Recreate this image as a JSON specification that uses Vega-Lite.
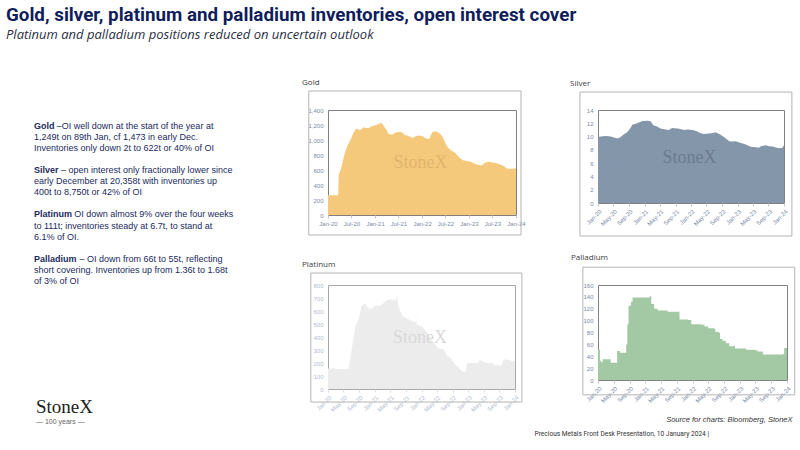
{
  "$schema": "https://vega.github.io/schema/vega-lite/v6.json",
  "background": "white",
  "padding": {"left": 6, "top": 6, "right": 0, "bottom": 0},
  "autosize": {"type": "pad"},
  "title": {
    "text": "Gold, silver, platinum and palladium inventories, open interest cover",
    "subtitle": "Platinum and palladium positions reduced on uncertain outlook",
    "anchor": "start", "frame": "bounds", "dx": -28, "offset": 36,
    "font": "Roboto", "fontSize": 18.8, "fontWeight": "bold", "color": "#0f1d5a",
    "subtitleFont": "Open Sans", "subtitleFontSize": 13, "subtitleFontStyle": "italic",
    "subtitleColor": "#2a2f45", "subtitlePadding": 4
  },
  "config": {
    "view": {"stroke": "#808080", "strokeWidth": 1},
    "title": {"font": "Open Sans", "fontSize": 8, "fontWeight": "normal", "color": "#404040", "anchor": "start", "frame": "group"},
    "axis": {"labelFont": "Liberation Sans", "labelFontSize": 6, "labelColor": "#7b8aa3", "gridColor": "#e2e2e2", "gridWidth": 0.8, "domain": false, "tickColor": "#c8c8c8", "tickSize": 3, "titleFont": "Liberation Sans"}
  },
  "bounds": "flush",
  "align": "each",
  "columns": 3,
  "spacing": {"row": 70, "column": 82},
  "datasets": {
    "notes": [
      {"line": 1, "kind": "head", "t": "Gold"},
      {"line": 1, "kind": "first", "p": "gold", "t": "–OI well down at the start of the year at"},
      {"line": 2, "kind": "body", "t": "1,249t on 89th Jan, cf 1,473 in early Dec."},
      {"line": 3, "kind": "body", "t": "Inventories only down 2t to 622t or 40% of OI"},
      {"line": 5, "kind": "head", "t": "Silver"},
      {"line": 5, "kind": "first", "p": "silver", "t": "– open interest only fractionally lower since"},
      {"line": 6, "kind": "body", "t": "early December at 20,358t with inventories up"},
      {"line": 7, "kind": "body", "t": "400t to 8,750t or 42% of OI"},
      {"line": 9, "kind": "head", "t": "Platinum"},
      {"line": 9, "kind": "first", "p": "platinum", "t": "OI down almost 9% over the four weeks"},
      {"line": 10, "kind": "body", "t": "to 111t; inventories steady at 6.7t, to stand at"},
      {"line": 11, "kind": "body", "t": "6.1% of OI."},
      {"line": 13, "kind": "head", "t": "Palladium"},
      {"line": 13, "kind": "first", "p": "palladium", "t": "– OI down from 66t to 55t, reflecting"},
      {"line": 14, "kind": "body", "t": "short covering.  Inventories up from 1.36t to 1.68t"},
      {"line": 15, "kind": "body", "t": "of 3% of OI"}
    ],
    "gold": [
      {"date": "2020-01-01", "v": 265}, {"date": "2020-03-20", "v": 265}, {"date": "2020-03-24", "v": 540},
      {"date": "2020-04-10", "v": 610}, {"date": "2020-05-01", "v": 760}, {"date": "2020-05-15", "v": 850},
      {"date": "2020-06-01", "v": 930}, {"date": "2020-06-15", "v": 975}, {"date": "2020-07-01", "v": 1030},
      {"date": "2020-07-15", "v": 1090}, {"date": "2020-08-01", "v": 1140}, {"date": "2020-08-15", "v": 1150},
      {"date": "2020-09-01", "v": 1135}, {"date": "2020-09-15", "v": 1140}, {"date": "2020-10-01", "v": 1170},
      {"date": "2020-10-20", "v": 1160}, {"date": "2020-11-15", "v": 1160}, {"date": "2020-12-01", "v": 1180},
      {"date": "2020-12-20", "v": 1190}, {"date": "2021-01-15", "v": 1205}, {"date": "2021-02-01", "v": 1215},
      {"date": "2021-02-10", "v": 1230}, {"date": "2021-02-25", "v": 1220}, {"date": "2021-03-15", "v": 1170},
      {"date": "2021-04-01", "v": 1130}, {"date": "2021-04-15", "v": 1080}, {"date": "2021-05-15", "v": 1075},
      {"date": "2021-06-10", "v": 1100}, {"date": "2021-07-01", "v": 1110}, {"date": "2021-08-01", "v": 1100},
      {"date": "2021-08-20", "v": 1065}, {"date": "2021-09-15", "v": 1060}, {"date": "2021-10-10", "v": 1035},
      {"date": "2021-10-25", "v": 1030}, {"date": "2021-11-15", "v": 1055}, {"date": "2021-12-15", "v": 1060},
      {"date": "2022-01-15", "v": 1045}, {"date": "2022-02-01", "v": 1020}, {"date": "2022-02-25", "v": 1015},
      {"date": "2022-03-10", "v": 1060}, {"date": "2022-03-25", "v": 1110}, {"date": "2022-04-20", "v": 1115},
      {"date": "2022-05-15", "v": 1095}, {"date": "2022-06-10", "v": 1040}, {"date": "2022-07-01", "v": 960},
      {"date": "2022-07-20", "v": 900}, {"date": "2022-08-15", "v": 860}, {"date": "2022-09-15", "v": 830},
      {"date": "2022-10-15", "v": 770}, {"date": "2022-11-15", "v": 730}, {"date": "2022-12-15", "v": 720},
      {"date": "2023-01-15", "v": 710}, {"date": "2023-02-15", "v": 685}, {"date": "2023-03-15", "v": 668},
      {"date": "2023-04-10", "v": 665}, {"date": "2023-05-01", "v": 695}, {"date": "2023-06-01", "v": 710},
      {"date": "2023-07-01", "v": 700}, {"date": "2023-08-01", "v": 690}, {"date": "2023-09-01", "v": 675},
      {"date": "2023-10-01", "v": 650}, {"date": "2023-10-20", "v": 620}, {"date": "2023-12-01", "v": 618},
      {"date": "2024-01-01", "v": 622}
    ],
    "silver": [
      {"date": "2020-01-01", "v": 9.95}, {"date": "2020-02-05", "v": 10.05}, {"date": "2020-03-05", "v": 10.1},
      {"date": "2020-04-10", "v": 10.0}, {"date": "2020-05-05", "v": 9.85}, {"date": "2020-06-01", "v": 9.7},
      {"date": "2020-06-25", "v": 9.9}, {"date": "2020-07-20", "v": 10.3}, {"date": "2020-08-15", "v": 10.6},
      {"date": "2020-09-10", "v": 11.2}, {"date": "2020-09-28", "v": 11.8}, {"date": "2020-10-20", "v": 11.9},
      {"date": "2020-11-18", "v": 12.1}, {"date": "2020-12-15", "v": 12.35}, {"date": "2021-01-25", "v": 12.4},
      {"date": "2021-02-18", "v": 12.3}, {"date": "2021-03-10", "v": 11.7}, {"date": "2021-04-10", "v": 11.5},
      {"date": "2021-05-05", "v": 11.2}, {"date": "2021-06-15", "v": 11.05}, {"date": "2021-07-10", "v": 11.0},
      {"date": "2021-08-05", "v": 11.3}, {"date": "2021-09-15", "v": 11.2}, {"date": "2021-10-10", "v": 11.15},
      {"date": "2021-11-05", "v": 11.0}, {"date": "2021-12-05", "v": 11.05}, {"date": "2022-01-12", "v": 11.0},
      {"date": "2022-02-10", "v": 10.85}, {"date": "2022-03-18", "v": 10.5}, {"date": "2022-04-12", "v": 10.4},
      {"date": "2022-05-20", "v": 10.45}, {"date": "2022-06-25", "v": 10.55}, {"date": "2022-07-12", "v": 10.65},
      {"date": "2022-08-10", "v": 10.4}, {"date": "2022-09-05", "v": 10.1}, {"date": "2022-10-01", "v": 9.7},
      {"date": "2022-10-28", "v": 9.3}, {"date": "2022-11-20", "v": 9.25}, {"date": "2022-12-18", "v": 9.3},
      {"date": "2023-01-15", "v": 9.1}, {"date": "2023-02-25", "v": 8.9}, {"date": "2023-03-20", "v": 8.7},
      {"date": "2023-04-15", "v": 8.45}, {"date": "2023-05-25", "v": 8.4}, {"date": "2023-06-18", "v": 8.3},
      {"date": "2023-07-03", "v": 8.55}, {"date": "2023-08-12", "v": 8.7}, {"date": "2023-09-05", "v": 8.55},
      {"date": "2023-10-03", "v": 8.5}, {"date": "2023-10-28", "v": 8.35}, {"date": "2023-11-25", "v": 8.25},
      {"date": "2023-12-20", "v": 8.3}, {"date": "2024-01-01", "v": 8.75}
    ],
    "platinum": [
      {"date": "2020-01-01", "v": 157}, {"date": "2020-02-28", "v": 157}, {"date": "2020-03-05", "v": 152},
      {"date": "2020-05-25", "v": 152}, {"date": "2020-06-10", "v": 155}, {"date": "2020-07-05", "v": 310},
      {"date": "2020-08-01", "v": 475}, {"date": "2020-09-01", "v": 551}, {"date": "2020-09-20", "v": 640},
      {"date": "2020-10-18", "v": 658}, {"date": "2020-11-08", "v": 620}, {"date": "2020-12-10", "v": 620},
      {"date": "2021-01-01", "v": 640}, {"date": "2021-02-01", "v": 640}, {"date": "2021-02-25", "v": 650},
      {"date": "2021-04-05", "v": 683}, {"date": "2021-05-01", "v": 690}, {"date": "2021-06-10", "v": 680},
      {"date": "2021-06-25", "v": 715}, {"date": "2021-07-01", "v": 640}, {"date": "2021-07-18", "v": 600},
      {"date": "2021-08-12", "v": 556}, {"date": "2021-09-10", "v": 540}, {"date": "2021-10-05", "v": 530},
      {"date": "2021-11-10", "v": 513}, {"date": "2021-11-20", "v": 513}, {"date": "2021-11-22", "v": 590},
      {"date": "2021-11-24", "v": 495}, {"date": "2022-01-05", "v": 480}, {"date": "2022-02-12", "v": 437},
      {"date": "2022-03-08", "v": 400}, {"date": "2022-04-12", "v": 348}, {"date": "2022-05-12", "v": 310},
      {"date": "2022-06-20", "v": 310}, {"date": "2022-07-15", "v": 260}, {"date": "2022-08-12", "v": 245},
      {"date": "2022-09-18", "v": 190}, {"date": "2022-10-15", "v": 170}, {"date": "2022-11-12", "v": 137},
      {"date": "2022-12-12", "v": 132}, {"date": "2022-12-22", "v": 196}, {"date": "2023-01-28", "v": 200},
      {"date": "2023-03-18", "v": 200}, {"date": "2023-04-03", "v": 225}, {"date": "2023-04-28", "v": 210},
      {"date": "2023-06-05", "v": 200}, {"date": "2023-07-12", "v": 200}, {"date": "2023-07-20", "v": 183},
      {"date": "2023-09-18", "v": 183}, {"date": "2023-10-03", "v": 226}, {"date": "2023-11-10", "v": 225},
      {"date": "2023-12-08", "v": 215}, {"date": "2024-01-01", "v": 212}
    ],
    "palladium": [
      {"date": "2020-01-01", "v": 51}, {"date": "2020-01-10", "v": 51}, {"date": "2020-01-16", "v": 32.5},
      {"date": "2020-01-26", "v": 30}, {"date": "2020-02-06", "v": 35}, {"date": "2020-04-03", "v": 35},
      {"date": "2020-04-08", "v": 29}, {"date": "2020-05-24", "v": 29}, {"date": "2020-05-28", "v": 49},
      {"date": "2020-06-18", "v": 46}, {"date": "2020-07-28", "v": 46}, {"date": "2020-08-06", "v": 60},
      {"date": "2020-08-15", "v": 94}, {"date": "2020-08-24", "v": 125}, {"date": "2020-09-12", "v": 132},
      {"date": "2020-09-24", "v": 139}, {"date": "2021-01-24", "v": 139}, {"date": "2021-02-03", "v": 141},
      {"date": "2021-02-15", "v": 128}, {"date": "2021-03-10", "v": 120}, {"date": "2021-04-06", "v": 117},
      {"date": "2021-06-10", "v": 117}, {"date": "2021-06-22", "v": 115}, {"date": "2021-09-10", "v": 115},
      {"date": "2021-09-22", "v": 102}, {"date": "2021-11-25", "v": 101}, {"date": "2021-12-22", "v": 94},
      {"date": "2022-03-10", "v": 93}, {"date": "2022-04-03", "v": 90}, {"date": "2022-05-01", "v": 87},
      {"date": "2022-06-20", "v": 86}, {"date": "2022-06-25", "v": 81}, {"date": "2022-07-25", "v": 79},
      {"date": "2022-08-01", "v": 69}, {"date": "2022-08-20", "v": 66}, {"date": "2022-09-15", "v": 62},
      {"date": "2022-10-12", "v": 57}, {"date": "2022-11-18", "v": 58}, {"date": "2022-11-25", "v": 53},
      {"date": "2023-01-25", "v": 53}, {"date": "2023-02-18", "v": 51}, {"date": "2023-04-25", "v": 50},
      {"date": "2023-05-18", "v": 48}, {"date": "2023-06-15", "v": 48}, {"date": "2023-06-28", "v": 43},
      {"date": "2023-11-20", "v": 43}, {"date": "2023-12-03", "v": 44}, {"date": "2023-12-10", "v": 54},
      {"date": "2024-01-01", "v": 53}
    ]
  },
  "concat": [
    {
      "width": 212, "height": 105,
      "view": {"stroke": null},
      "data": {"name": "notes"},
      "encoding": {
        "x": {"datum": 0, "type": "quantitative", "scale": {"domain": [0, 1], "nice": false, "zero": false}, "axis": null},
        "y": {"field": "line", "type": "quantitative", "scale": {"domain": [-0.45, 9.05], "reverse": true, "nice": false, "zero": false}, "axis": null},
        "text": {"field": "t"}
      },
      "layer": [
        {"transform": [{"filter": "datum.kind == 'head'"}], "mark": {"type": "text", "align": "left", "baseline": "middle", "font": "Liberation Sans", "fontSize": 9, "fontWeight": "bold", "color": "#1b2a5e"}},
        {"transform": [{"filter": "datum.kind == 'body'"}], "mark": {"type": "text", "align": "left", "baseline": "middle", "font": "Liberation Sans", "fontSize": 9, "color": "#1b2a5e"}},
        {"transform": [{"filter": "datum.p == 'gold'"}], "mark": {"type": "text", "align": "left", "baseline": "middle", "font": "Liberation Sans", "fontSize": 9, "color": "#1b2a5e", "dx": 22.8}},
        {"transform": [{"filter": "datum.p == 'silver'"}], "mark": {"type": "text", "align": "left", "baseline": "middle", "font": "Liberation Sans", "fontSize": 9, "color": "#1b2a5e", "dx": 27}},
        {"transform": [{"filter": "datum.p == 'platinum'"}], "mark": {"type": "text", "align": "left", "baseline": "middle", "font": "Liberation Sans", "fontSize": 9, "color": "#1b2a5e", "dx": 40.2}},
        {"transform": [{"filter": "datum.p == 'palladium'"}], "mark": {"type": "text", "align": "left", "baseline": "middle", "font": "Liberation Sans", "fontSize": 9, "color": "#1b2a5e", "dx": 45.5}}
      ]
    },
    {
      "width": 188, "height": 105,
      "title": {"text": "Gold", "dx": -26, "offset": 4},
      "layer": [
        {
          "data": {"values": [{"f": 1}]},
          "mark": {"type": "rect", "filled": false, "stroke": "#b4b4b4", "strokeWidth": 1, "clip": false},
          "encoding": {
            "x": {"datum": {"year": 2019, "month": 8, "date": 5}, "type": "temporal",
                  "axis": {"format": "%b-%y", "tickCount": {"interval": "month", "step": 6}, "labelAngle": 0, "labelFlush": false, "labelOverlap": false, "grid": false, "title": null, "labelPadding": 2}},
            "x2": {"datum": {"year": 2024, "month": 2, "date": 9}},
            "y": {"datum": 1653, "type": "quantitative",
                  "axis": {"values": [0, 200, 400, 600, 800, 1000, 1200, 1400], "format": ",.0f", "ticks": false, "labelPadding": 5, "labelOverlap": false, "title": null}},
            "y2": {"datum": -267}
          }
        },
        {
          "data": {"name": "gold"},
          "mark": {"type": "area", "color": "#f5c97b"},
          "encoding": {
            "x": {"field": "date", "type": "temporal", "scale": {"domain": [{"year": 2020, "month": 1, "date": 1}, {"year": 2024, "month": 1, "date": 1}]},
                  "axis": {"format": "%b-%y", "tickCount": {"interval": "month", "step": 6}, "labelAngle": 0, "labelFlush": false, "labelOverlap": false, "grid": false, "title": null, "labelPadding": 2}},
            "y": {"field": "v", "type": "quantitative", "scale": {"domain": [0, 1400], "nice": false},
                  "axis": {"values": [0, 200, 400, 600, 800, 1000, 1200, 1400], "format": ",.0f", "ticks": false, "labelPadding": 5, "labelOverlap": false, "title": null}}
          }
        },
        {
          "data": {"values": [{"w": "StoneX"}]},
          "mark": {"type": "text", "font": "Liberation Serif", "fontSize": 18, "color": "#dfb56f"},
          "encoding": {
            "x": {"datum": {"year": 2021, "month": 12, "date": 20}, "type": "temporal",
                  "axis": {"format": "%b-%y", "tickCount": {"interval": "month", "step": 6}, "labelAngle": 0, "labelFlush": false, "labelOverlap": false, "grid": false, "title": null, "labelPadding": 2}},
            "y": {"datum": 693, "type": "quantitative",
                  "axis": {"values": [0, 200, 400, 600, 800, 1000, 1200, 1400], "format": ",.0f", "ticks": false, "labelPadding": 5, "labelOverlap": false, "title": null}},
            "text": {"field": "w"}
          }
        }
      ]
    },
    {
      "width": 186, "height": 93,
      "title": {"text": "Silver", "dx": -28, "offset": 4},
      "layer": [
        {
          "data": {"values": [{"f": 1}]},
          "mark": {"type": "rect", "filled": false, "stroke": "#b4b4b4", "strokeWidth": 1, "clip": false},
          "encoding": {
            "x": {"datum": {"year": 2019, "month": 8, "date": 12}, "type": "temporal",
                  "axis": {"format": "%b-%y", "tickCount": {"interval": "month", "step": 4}, "labelAngle": -45, "labelFlush": false, "labelOverlap": false, "grid": false, "title": null, "labelPadding": 2}},
            "x2": {"datum": {"year": 2024, "month": 3, "date": 3}},
            "y": {"datum": 16.7, "type": "quantitative",
                  "axis": {"values": [0, 2, 4, 6, 8, 10, 12, 14], "ticks": false, "labelPadding": 5, "labelOverlap": false, "title": null}},
            "y2": {"datum": -4.97}
          }
        },
        {
          "data": {"name": "silver"},
          "mark": {"type": "area", "color": "#8496a9"},
          "encoding": {
            "x": {"field": "date", "type": "temporal", "scale": {"domain": [{"year": 2020, "month": 1, "date": 1}, {"year": 2024, "month": 1, "date": 1}]},
                  "axis": {"format": "%b-%y", "tickCount": {"interval": "month", "step": 4}, "labelAngle": -45, "labelFlush": false, "labelOverlap": false, "grid": false, "title": null, "labelPadding": 2}},
            "y": {"field": "v", "type": "quantitative", "scale": {"domain": [0, 14], "nice": false},
                  "axis": {"values": [0, 2, 4, 6, 8, 10, 12, 14], "ticks": false, "labelPadding": 5, "labelOverlap": false, "title": null}}
          }
        },
        {
          "data": {"values": [{"w": "StoneX"}]},
          "mark": {"type": "text", "font": "Liberation Serif", "fontSize": 18, "color": "#6b7c90"},
          "encoding": {
            "x": {"datum": {"year": 2021, "month": 12, "date": 20}, "type": "temporal",
                  "axis": {"format": "%b-%y", "tickCount": {"interval": "month", "step": 4}, "labelAngle": -45, "labelFlush": false, "labelOverlap": false, "grid": false, "title": null, "labelPadding": 2}},
            "y": {"datum": 6.8, "type": "quantitative",
                  "axis": {"values": [0, 2, 4, 6, 8, 10, 12, 14], "ticks": false, "labelPadding": 5, "labelOverlap": false, "title": null}},
            "text": {"field": "w"}
          }
        }
      ]
    },
    {
      "width": 212, "height": 104,
      "view": {"stroke": null},
      "title": {"text": "StoneX", "subtitle": "— 100 years —", "orient": "bottom", "dx": 2, "offset": 9,
                "font": "Liberation Serif", "fontSize": 19, "color": "#222222", "subtitleFont": "Liberation Sans", "subtitleFontSize": 7, "subtitleColor": "#666666", "subtitlePadding": 1},
      "data": {"values": [{"w": ""}]},
      "mark": {"type": "text"},
      "encoding": {"text": {"field": "w"}}
    },
    {
      "width": 187, "height": 104,
      "title": {"text": "Platinum", "dx": -26, "offset": 4},
      "view": {"stroke": "#a8a8a8"},
      "layer": [
        {
          "data": {"values": [{"f": 1}]},
          "mark": {"type": "rect", "filled": false, "stroke": "#b4b4b4", "strokeWidth": 1, "clip": false},
          "encoding": {
            "x": {"datum": {"year": 2019, "month": 8, "date": 20}, "type": "temporal",
                  "axis": {"format": "%b-%y", "tickCount": {"interval": "month", "step": 4}, "labelAngle": -45, "labelFlush": false, "labelOverlap": false, "grid": false, "labelPadding": 2, "labelColor": "#b3bccb", "tickColor": "#dddddd",
                           "title": "Precious Metals Front Desk Presentation, 10 January 2024 |", "titleX": 206, "titleY": 44, "titleAlign": "left", "titleBaseline": "middle", "titleFont": "Roboto", "titleFontSize": 6.6, "titleFontWeight": "normal", "titleColor": "#333333"}},
            "x2": {"datum": {"year": 2024, "month": 2, "date": 24}},
            "y": {"datum": 892, "type": "quantitative",
                  "axis": {"values": [0, 100, 200, 300, 400, 500, 600, 700, 800], "ticks": false, "labelPadding": 5, "labelOverlap": false, "title": null, "labelColor": "#b3bccb", "gridColor": "#efefef"}},
            "y2": {"datum": -100}
          }
        },
        {
          "data": {"name": "platinum"},
          "mark": {"type": "area", "color": "#ececec"},
          "encoding": {
            "x": {"field": "date", "type": "temporal", "scale": {"domain": [{"year": 2020, "month": 1, "date": 1}, {"year": 2024, "month": 1, "date": 1}]},
                  "axis": {"format": "%b-%y", "tickCount": {"interval": "month", "step": 4}, "labelAngle": -45, "labelFlush": false, "labelOverlap": false, "grid": false, "labelPadding": 2, "labelColor": "#b3bccb", "tickColor": "#dddddd",
                           "title": "Precious Metals Front Desk Presentation, 10 January 2024 |", "titleX": 206, "titleY": 44, "titleAlign": "left", "titleBaseline": "middle", "titleFont": "Roboto", "titleFontSize": 6.6, "titleFontWeight": "normal", "titleColor": "#333333"}},
            "y": {"field": "v", "type": "quantitative", "scale": {"domain": [0, 800], "nice": false},
                  "axis": {"values": [0, 100, 200, 300, 400, 500, 600, 700, 800], "ticks": false, "labelPadding": 5, "labelOverlap": false, "title": null, "labelColor": "#b3bccb", "gridColor": "#efefef"}}
          }
        },
        {
          "data": {"values": [{"w": "StoneX"}]},
          "mark": {"type": "text", "font": "Liberation Serif", "fontSize": 18, "color": "#d9d9d9"},
          "encoding": {
            "x": {"datum": {"year": 2021, "month": 12, "date": 20}, "type": "temporal",
                  "axis": {"format": "%b-%y", "tickCount": {"interval": "month", "step": 4}, "labelAngle": -45, "labelFlush": false, "labelOverlap": false, "grid": false, "labelPadding": 2, "labelColor": "#b3bccb", "tickColor": "#dddddd",
                           "title": "Precious Metals Front Desk Presentation, 10 January 2024 |", "titleX": 206, "titleY": 44, "titleAlign": "left", "titleBaseline": "middle", "titleFont": "Roboto", "titleFontSize": 6.6, "titleFontWeight": "normal", "titleColor": "#333333"}},
            "y": {"datum": 392, "type": "quantitative",
                  "axis": {"values": [0, 100, 200, 300, 400, 500, 600, 700, 800], "ticks": false, "labelPadding": 5, "labelOverlap": false, "title": null, "labelColor": "#b3bccb", "gridColor": "#efefef"}},
            "text": {"field": "w"}
          }
        }
      ]
    },
    {
      "width": 189, "height": 95,
      "title": {"text": "Palladium", "dx": -27, "offset": 5},
      "layer": [
        {
          "data": {"values": [{"f": 1}]},
          "mark": {"type": "rect", "filled": false, "stroke": "#b4b4b4", "strokeWidth": 1, "clip": false},
          "encoding": {
            "x": {"datum": {"year": 2019, "month": 9, "date": 6}, "type": "temporal",
                  "axis": {"format": "%b-%y", "tickCount": {"interval": "month", "step": 4}, "labelAngle": -45, "labelFlush": false, "labelOverlap": false, "grid": false, "labelPadding": 2,
                           "title": "Source for charts: Bloomberg, StoneX", "titleX": 194, "titleY": 39, "titleAlign": "right", "titleBaseline": "middle", "titleFont": "Liberation Sans", "titleFontSize": 7.5, "titleFontStyle": "italic", "titleFontWeight": "normal", "titleColor": "#333333"}},
            "x2": {"datum": {"year": 2024, "month": 3, "date": 1}},
            "y": {"datum": 190, "type": "quantitative",
                  "axis": {"values": [0, 20, 40, 60, 80, 100, 120, 140, 160], "ticks": false, "labelPadding": 5, "labelOverlap": false, "title": null}},
            "y2": {"datum": -25}
          }
        },
        {
          "data": {"name": "palladium"},
          "mark": {"type": "area", "color": "#a2c9a3", "interpolate": "step-after"},
          "encoding": {
            "x": {"field": "date", "type": "temporal", "scale": {"domain": [{"year": 2020, "month": 1, "date": 1}, {"year": 2024, "month": 1, "date": 1}]},
                  "axis": {"format": "%b-%y", "tickCount": {"interval": "month", "step": 4}, "labelAngle": -45, "labelFlush": false, "labelOverlap": false, "grid": false, "labelPadding": 2,
                           "title": "Source for charts: Bloomberg, StoneX", "titleX": 194, "titleY": 39, "titleAlign": "right", "titleBaseline": "middle", "titleFont": "Liberation Sans", "titleFontSize": 7.5, "titleFontStyle": "italic", "titleFontWeight": "normal", "titleColor": "#333333"}},
            "y": {"field": "v", "type": "quantitative", "scale": {"domain": [0, 160], "nice": false},
                  "axis": {"values": [0, 20, 40, 60, 80, 100, 120, 140, 160], "ticks": false, "labelPadding": 5, "labelOverlap": false, "title": null}}
          }
        }
      ]
    }
  ]
}
